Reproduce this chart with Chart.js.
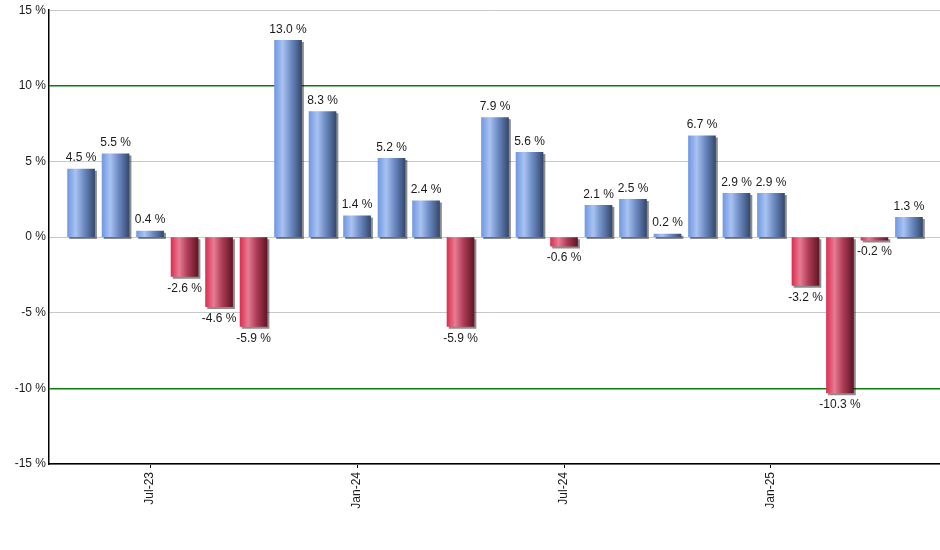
<!DOCTYPE html>
<html>
<head>
<meta charset="utf-8">
<script src="https://cdn.jsdelivr.net/npm/chart.js@4/dist/chart.umd.min.js"></script>
<style>
  html, body { margin: 0; padding: 0; background: #fff; }
  #wrap { width: 940px; height: 550px; }
</style>
</head>
<body>
<div id="wrap"><canvas id="chart"></canvas></div>
<script>
// monthly returns, May-23 .. May-25
const months = ['May-23','Jun-23','Jul-23','Aug-23','Sep-23','Oct-23','Nov-23','Dec-23',
  'Jan-24','Feb-24','Mar-24','Apr-24','May-24','Jun-24','Jul-24','Aug-24','Sep-24','Oct-24',
  'Nov-24','Dec-24','Jan-25','Feb-25','Mar-25','Apr-25','May-25'];
const returns = [4.5, 5.5, 0.4, -2.6, -4.6, -5.9, 13.0, 8.3, 1.4, 5.2, 2.4, -5.9, 7.9,
  5.6, -0.6, 2.1, 2.5, 0.2, 6.7, 2.9, 2.9, -3.2, -10.3, -0.2, 1.3];
const yTicks = [-15, -10, -5, 0, 5, 10, 15];
const limitLines = [-10, 10];

const FONT = { family: '"Liberation Sans", Arial, sans-serif', size: 12 };
const BAR_W = 27;

function barFill(ctx) {
  const chart = ctx.chart;
  const xs = chart.scales.x;
  const pos = ctx.parsed && ctx.parsed.y >= 0;
  if (!xs || !ctx.parsed) return pos ? '#7a9be0' : '#c03050';
  const cx = xs.getPixelForValue(ctx.parsed.x);
  if (!isFinite(cx)) return pos ? '#7a9be0' : '#c03050';
  const g = chart.ctx.createLinearGradient(cx - BAR_W / 2, 0, cx + BAR_W / 2, 0);
  if (pos) {
    g.addColorStop(0, '#7098e2');
    g.addColorStop(0.3, '#a9c3f1');
    g.addColorStop(0.6, '#6e8cc4');
    g.addColorStop(1, '#34496f');
  } else {
    g.addColorStop(0, '#dc2e52');
    g.addColorStop(0.3, '#e77c93');
    g.addColorStop(0.6, '#b03e58');
    g.addColorStop(1, '#621526');
  }
  return g;
}

const barShadow = {
  id: 'barShadow',
  beforeDatasetsDraw(chart) {
    const c = chart.ctx;
    c.save();
    c.shadowColor = 'rgba(0,0,0,0.45)';
    c.shadowOffsetX = 2;
    c.shadowOffsetY = 2;
    c.shadowBlur = 0;
  },
  afterDatasetsDraw(chart) {
    chart.ctx.restore();
  }
};

const valueLabels = {
  id: 'valueLabels',
  afterDatasetsDraw(chart) {
    const c = chart.ctx;
    const meta = chart.getDatasetMeta(0);
    c.save();
    c.font = FONT.size + 'px ' + FONT.family;
    c.fillStyle = '#1a1a1a';
    c.textAlign = 'center';
    meta.data.forEach((el, i) => {
      const v = returns[i];
      const txt = v.toFixed(1) + ' %';
      if (v >= 0) {
        c.textBaseline = 'bottom';
        c.fillText(txt, el.x, el.y - 5);
      } else {
        c.textBaseline = 'top';
        c.fillText(txt, el.x, el.y + 6);
      }
    });
    c.restore();
  }
};

const chart = new Chart(document.getElementById('chart'), {
  type: 'bar',
  data: {
    datasets: [{
      data: returns.map((v, i) => ({ x: i, y: v })),
      backgroundColor: barFill,
      borderWidth: 0,
      barThickness: BAR_W
    }]
  },
  options: {
    responsive: true,
    maintainAspectRatio: false,
    animation: false,
    layout: { padding: { top: 9, right: 0, left: 0, bottom: 0 } },
    plugins: { legend: { display: false }, tooltip: { enabled: false } },
    scales: {
      x: {
        type: 'linear',
        offset: false,
        min: -0.93,
        max: 24.9,
        afterBuildTicks(scale) {
          scale.ticks = months
            .map((m, i) => ({ value: i, m }))
            .filter(t => t.m.startsWith('Jul') || t.m.startsWith('Jan'))
            .map(t => ({ value: t.value }));
        },
        afterFit(scale) { scale.height = 86; },
        ticks: {
          autoSkip: false,
          minRotation: 90,
          maxRotation: 90,
          padding: 4,
          color: '#1a1a1a',
          font: FONT,
          callback: v => months[v]
        },
        grid: {
          offset: false,
          drawOnChartArea: false,
          drawTicks: true,
          tickLength: 4,
          tickColor: '#000'
        },
        border: { color: '#000', width: 1.5 }
      },
      y: {
        min: -15,
        max: 15,
        afterBuildTicks(scale) {
          scale.ticks = yTicks.map(v => ({ value: v }));
        },
        afterFit(scale) { scale.width = 49; },
        ticks: {
          padding: 3,
          color: '#1a1a1a',
          font: FONT,
          callback: v => v + ' %'
        },
        grid: {
          drawTicks: false,
          color: c => limitLines.includes(c.tick.value) ? '#0b7d0b' : '#c8c8c8',
          lineWidth: c => limitLines.includes(c.tick.value) ? 1.5 : 1
        },
        border: { color: '#000', width: 1.5 }
      }
    }
  },
  plugins: [barShadow, valueLabels]
});
// gradients depend on final pixel positions
chart.update();
</script>
</body>
</html>
